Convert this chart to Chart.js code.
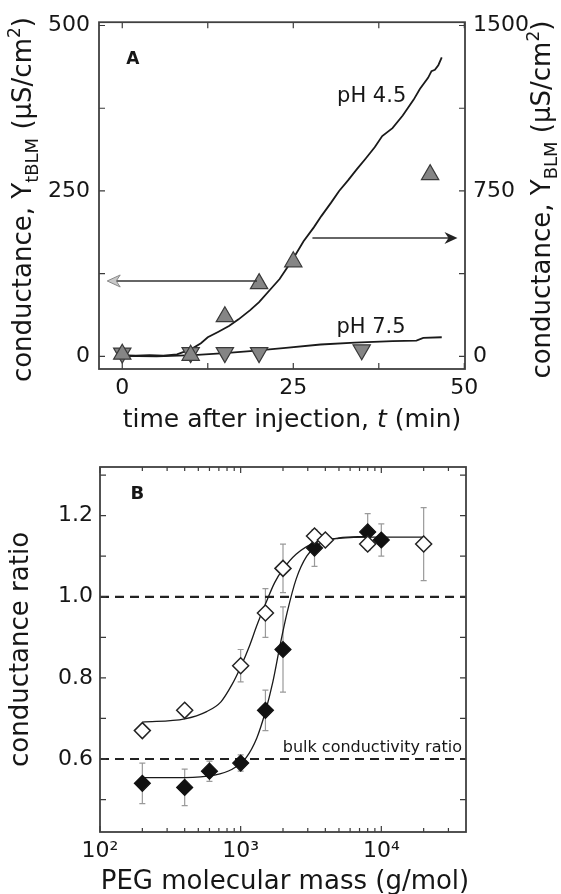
<!DOCTYPE html>
<html>
<head>
<meta charset="utf-8">
<script src="https://cdn.jsdelivr.net/npm/chart.js@4/dist/chart.umd.min.js"></script>
<style>
  body { margin: 0; background: #fff; width: 561px; height: 894px; overflow: hidden; }
  canvas { position: absolute; left: 0; }
  #chartA { top: 0; }
  #chartB { top: 440px; }
</style>
</head>
<body>
<canvas id="chartA" width="561" height="440"></canvas>
<canvas id="chartB" width="561" height="454"></canvas>
<script>
// ---- panel A : conductance vs time ----
const timeTicks = [0, 12.5, 25, 37.5, 50]
const leftTicks = [0, 125, 250, 375, 500]
const rightTicks = [0, 375, 750, 1125, 1500]

// tBLM traces (left axis, uS/cm2)
const ph45Time = [-0.5, 2, 4, 6, 8, 9, 10.4, 11.5, 12.5, 14, 15.6, 17, 18.7, 20, 21.8, 23, 23.9, 25, 26.5, 28, 29.1, 30.5, 31.7, 33, 34.3, 35.5, 36.9, 38, 39.5, 41, 42.6, 43.5, 44.7, 45.2, 45.7, 46.2, 46.7]
const ph45Y = [2, 1, 2, 1, 3, 7, 13, 20, 29, 37, 46, 56, 70, 82, 103, 117, 131, 148, 174, 195, 212, 232, 250, 266, 283, 298, 316, 333, 345, 364, 388, 404, 421, 431, 433, 440, 452]
const ph75Time = [-0.5, 5, 10.4, 15, 18.7, 23.9, 29, 34, 39.5, 43, 44, 46.7]
const ph75Y = [1, 0, 2, 5, 8, 13, 18, 21, 23, 24, 28, 29]

// BLM points (right axis, uS/cm2)
const blmUpTime = [0, 10, 15, 20, 25, 45]
const blmUpY = [10, 5, 180, 330, 429, 824]
const blmDownTime = [0, 10, 15, 20, 35]
const blmDownY = [15, 17, 17, 17, 30]

// arrows pointing to their axes (left-axis units)
const arrowLeft = { from: 19.7, to: -2.2, y: 114 }
const arrowRight = { from: 27.8, to: 49, y: 179 }

// ---- panel B : conductance ratio vs PEG mass ----
const massMajor = [100, 1000, 10000]
const massMinor = [200, 300, 400, 500, 600, 700, 800, 900, 2000, 3000, 4000, 5000, 6000, 7000, 8000, 9000, 20000, 30000]
const ratioMajor = [0.6, 0.8, 1.0, 1.2]
const ratioMinor = [0.5, 0.7, 0.9, 1.1, 1.3]

const openMass = [200, 400, 1000, 1500, 2000, 3350, 4000, 8000, 20000]
const openRatio = [0.67, 0.72, 0.83, 0.96, 1.07, 1.15, 1.14, 1.13, 1.13]
const openErr = [0, 0, 0.04, 0.06, 0.06, 0, 0, 0, 0.09]

const filledMass = [200, 400, 600, 1000, 1500, 2000, 3350, 8000, 10000]
const filledRatio = [0.54, 0.53, 0.57, 0.59, 0.72, 0.87, 1.12, 1.16, 1.14]
const filledErr = [0.05, 0.045, 0.025, 0.02, 0.05, 0.105, 0.045, 0.045, 0.04]

const openFitMass = [200, 400, 573, 724, 863, 1000, 1159, 1303, 1500, 1745, 2000, 2477, 3350, 5000, 9000, 20000]
const openFitRatio = [0.691, 0.699, 0.717, 0.741, 0.782, 0.827, 0.88, 0.929, 0.982, 1.035, 1.068, 1.105, 1.133, 1.144, 1.147, 1.147]
const filledFitMass = [200, 400, 645, 863, 1091, 1303, 1500, 1694, 1905, 2143, 2477, 2950, 3740, 5000, 8000]
const filledFitRatio = [0.554, 0.554, 0.56, 0.574, 0.603, 0.652, 0.717, 0.79, 0.88, 0.962, 1.043, 1.1, 1.133, 1.145, 1.149]

const refMass = [100, 40000]
const refBulk = [0.6, 0.6]
const refOne = [1, 1]

const FONT = '"DejaVu Sans", sans-serif'
const INK = '#161616'

function pts(xs, ys) { return xs.map((x, i) => ({ x: x, y: ys[i] })) }

function drawRuns(ctx, runs, cx, cy, rot) {
    // runs: [text, size, shift, italic]
    ctx.save()
    ctx.translate(cx, cy)
    ctx.rotate(rot)
    ctx.textAlign = 'left'
    ctx.textBaseline = 'alphabetic'
    ctx.fillStyle = INK
    let w = 0
    for (const r of runs) { ctx.font = (r[3] ? 'italic ' : '') + r[1] + 'px ' + FONT; w += ctx.measureText(r[0]).width }
    let x = -w / 2
    for (const r of runs) {
        ctx.font = (r[3] ? 'italic ' : '') + r[1] + 'px ' + FONT
        ctx.fillText(r[0], x, r[2] || 0)
        x += ctx.measureText(r[0]).width
    }
    ctx.restore()
}

function drawFrame(chart, xs, ys, xMinor, yMinor, xScaleId, yScaleId) {
    const ctx = chart.ctx
    const a = chart.chartArea
    const sx = chart.scales[xScaleId], sy = chart.scales[yScaleId]
    ctx.save()
    ctx.strokeStyle = '#3a3a3a'
    ctx.lineWidth = 1.2
    ctx.beginPath()
    for (const [list, len] of [[xs, 6], [xMinor || [], 4]]) {
        for (const v of list) {
            const p = sx.getPixelForValue(v)
            ctx.moveTo(p, a.bottom); ctx.lineTo(p, a.bottom - len)
            ctx.moveTo(p, a.top); ctx.lineTo(p, a.top + len)
        }
    }
    for (const [list, len] of [[ys, 6], [yMinor || [], 6]]) {
        for (const v of list) {
            const p = sy.getPixelForValue(v)
            ctx.moveTo(a.left, p); ctx.lineTo(a.left + len, p)
            ctx.moveTo(a.right, p); ctx.lineTo(a.right - len, p)
        }
    }
    ctx.stroke()
    ctx.lineWidth = 1.8
    ctx.strokeStyle = '#404040'
    ctx.strokeRect(a.left, a.top, a.right - a.left, a.bottom - a.top)
    ctx.restore()
}

function arrow(ctx, x0, x1, y, open) {
    const dir = Math.sign(x1 - x0)
    ctx.save()
    ctx.strokeStyle = '#333'
    ctx.lineWidth = 1.5
    ctx.beginPath(); ctx.moveTo(x0, y); ctx.lineTo(x1 - dir * 4, y); ctx.stroke()
    ctx.beginPath()
    ctx.moveTo(x1, y)
    ctx.lineTo(x1 - dir * 13, y - 6)
    ctx.lineTo(x1 - dir * 9, y)
    ctx.lineTo(x1 - dir * 13, y + 6)
    ctx.closePath()
    if (open) {
        ctx.fillStyle = '#c8c8c8'; ctx.fill()
        ctx.strokeStyle = '#888'; ctx.lineWidth = 1; ctx.stroke()
    } else {
        ctx.fillStyle = '#222'; ctx.fill()
    }
    ctx.restore()
}

const panelA = {
    id: 'panelA',
    afterDatasetsDraw(chart) {
        const ctx = chart.ctx
        const sx = chart.scales.x, sy = chart.scales.y
        drawFrame(chart, timeTicks, leftTicks, null, null, 'x', 'y')
        arrow(ctx, sx.getPixelForValue(arrowLeft.from), sx.getPixelForValue(arrowLeft.to), sy.getPixelForValue(arrowLeft.y), true)
        arrow(ctx, sx.getPixelForValue(arrowRight.from), sx.getPixelForValue(arrowRight.to), sy.getPixelForValue(arrowRight.y), false)

        ctx.save()
        ctx.fillStyle = INK
        ctx.textBaseline = 'middle'
        ctx.textAlign = 'left'
        ctx.font = 'bold 17px ' + FONT
        ctx.fillText('A', sx.getPixelForValue(0.6), sy.getPixelForValue(448))
        ctx.font = '21px ' + FONT
        ctx.fillText('pH 4.5', sx.getPixelForValue(31.4), sy.getPixelForValue(392))
        ctx.fillText('pH 7.5', sx.getPixelForValue(31.3), sy.getPixelForValue(43))
        ctx.restore()

        const a = chart.chartArea
        const mid = (a.top + a.bottom) / 2 + 4
        drawRuns(ctx, [['conductance, Y', 26], ['tBLM', 18, 7], [' (\u03bcS/cm', 26], ['2', 17, -11], [')', 26]], 31, mid, -Math.PI / 2)
        drawRuns(ctx, [['conductance, Y', 26], ['BLM', 18, 7], [' (\u03bcS/cm', 26], ['2', 17, -11], [')', 26]], 550, mid, -Math.PI / 2)
        drawRuns(ctx, [['time after injection, ', 25], ['t', 25, 0, true], [' (min)', 25]], (a.left + a.right) / 2 + 10, 427, 0)
    }
}

const errorBars = {
    id: 'errorBars',
    beforeDatasetsDraw(chart) {
        const ctx = chart.ctx
        const sx = chart.scales.x, sy = chart.scales.y
        ctx.save()
        ctx.strokeStyle = '#9a9a9a'
        ctx.lineWidth = 1.2
        ctx.beginPath()
        const sets = [[openMass, openRatio, openErr], [filledMass, filledRatio, filledErr]]
        for (const [ms, rs, es] of sets) {
            ms.forEach((m, i) => {
                if (!es[i]) return
                const x = sx.getPixelForValue(m)
                const y0 = sy.getPixelForValue(rs[i] - es[i]), y1 = sy.getPixelForValue(rs[i] + es[i])
                ctx.moveTo(x, y0); ctx.lineTo(x, y1)
                ctx.moveTo(x - 3, y0); ctx.lineTo(x + 3, y0)
                ctx.moveTo(x - 3, y1); ctx.lineTo(x + 3, y1)
            })
        }
        ctx.stroke()
        ctx.restore()
    },
    afterDatasetsDraw(chart) {
        const ctx = chart.ctx
        const sx = chart.scales.x, sy = chart.scales.y
        drawFrame(chart, massMajor, ratioMajor, massMinor, ratioMinor, 'x', 'y')
        ctx.save()
        ctx.fillStyle = INK
        ctx.textBaseline = 'middle'
        ctx.font = 'bold 18px ' + FONT
        ctx.textAlign = 'left'
        ctx.fillText('B', sx.getPixelForValue(165), sy.getPixelForValue(1.252))
        ctx.font = '16px ' + FONT
        ctx.textAlign = 'right'
        ctx.fillText('bulk conductivity ratio', chart.chartArea.right - 4, sy.getPixelForValue(0.628))
        ctx.restore()
        const a = chart.chartArea
        drawRuns(ctx, [['conductance ratio', 26]], 28, (a.top + a.bottom) / 2, -Math.PI / 2)
        drawRuns(ctx, [['PEG molecular mass (g/mol)', 26]], (a.left + a.right) / 2 + 2, 449, 0)
    }
}

const tickFont = { family: FONT, size: 22 }

new Chart(document.getElementById('chartA'), {
    type: 'line',
    data: {
        datasets: [
            {
                label: 'BLM pH 4.5', data: pts(blmUpTime, blmUpY), yAxisID: 'y2', showLine: false,
                pointStyle: 'triangle', pointRadius: 10, pointBackgroundColor: '#858585',
                pointBorderColor: '#3a3a3a', pointBorderWidth: 1.2, order: 0
            },
            {
                label: 'BLM pH 7.5', data: pts(blmDownTime, blmDownY), yAxisID: 'y2', showLine: false,
                pointStyle: 'triangle', pointRotation: 180, pointRadius: 10, pointBackgroundColor: '#858585',
                pointBorderColor: '#3a3a3a', pointBorderWidth: 1.2, order: 0
            },
            {
                label: 'tBLM pH 4.5', data: pts(ph45Time, ph45Y), yAxisID: 'y',
                borderColor: '#1a1a1a', borderWidth: 1.8, pointRadius: 0, tension: 0, order: 1
            },
            {
                label: 'tBLM pH 7.5', data: pts(ph75Time, ph75Y), yAxisID: 'y',
                borderColor: '#1a1a1a', borderWidth: 1.8, pointRadius: 0, tension: 0, order: 1
            }
        ]
    },
    options: {
        responsive: false,
        animation: false,
        layout: { padding: { top: 6, left: 0, right: 0, bottom: 0 } },
        plugins: { legend: { display: false }, tooltip: { enabled: false } },
        scales: {
            x: {
                type: 'linear', min: -3.4, max: 50.1,
                grid: { display: false, drawTicks: false }, border: { display: false },
                afterBuildTicks: s => { s.ticks = timeTicks.map(v => ({ value: v })) },
                afterFit: s => { s.height = 71 },
                ticks: { font: tickFont, color: INK, padding: 6, maxRotation: 0, callback: v => (v % 25 === 0 ? String(v) : '') }
            },
            y: {
                type: 'linear', position: 'left', min: -19, max: 505,
                grid: { display: false, drawTicks: false }, border: { display: false },
                afterBuildTicks: s => { s.ticks = leftTicks.map(v => ({ value: v })) },
                afterFit: s => { s.width = 99 },
                ticks: { font: tickFont, color: INK, padding: 9, callback: v => (v % 250 === 0 ? String(v) : '') }
            },
            y2: {
                type: 'linear', position: 'right', min: -57, max: 1515,
                grid: { display: false, drawTicks: false }, border: { display: false },
                afterBuildTicks: s => { s.ticks = rightTicks.map(v => ({ value: v })) },
                afterFit: s => { s.width = 96 },
                ticks: { font: tickFont, color: INK, padding: 8, callback: v => (v % 750 === 0 ? String(v) : '') }
            }
        }
    },
    plugins: [panelA]
})

const supers = { 100: '10\u00b2', 1000: '10\u00b3', 10000: '10\u2074' }

new Chart(document.getElementById('chartB'), {
    type: 'line',
    data: {
        datasets: [
            {
                label: 'open', data: pts(openMass, openRatio), showLine: false,
                pointStyle: 'rectRot', pointRadius: 8, pointBackgroundColor: '#fff',
                pointBorderColor: '#222', pointBorderWidth: 1.5, order: 0
            },
            {
                label: 'filled', data: pts(filledMass, filledRatio), showLine: false,
                pointStyle: 'rectRot', pointRadius: 8, pointBackgroundColor: '#111',
                pointBorderColor: '#111', pointBorderWidth: 1.2, order: 0
            },
            {
                label: 'open fit', data: pts(openFitMass, openFitRatio), borderColor: '#1a1a1a',
                borderWidth: 1.3, pointRadius: 0, cubicInterpolationMode: 'monotone', order: 1
            },
            {
                label: 'filled fit', data: pts(filledFitMass, filledFitRatio), borderColor: '#1a1a1a',
                borderWidth: 1.3, pointRadius: 0, cubicInterpolationMode: 'monotone', order: 1
            },
            {
                label: 'equal', data: pts(refMass, refOne), borderColor: '#222', borderWidth: 2.2,
                borderDash: [9, 6], pointRadius: 0, order: 2
            },
            {
                label: 'bulk', data: pts(refMass, refBulk), borderColor: '#222', borderWidth: 2.2,
                borderDash: [9, 6], pointRadius: 0, order: 2
            }
        ]
    },
    options: {
        responsive: false,
        animation: false,
        layout: { padding: { top: 27, left: 0, right: 95, bottom: 0 } },
        plugins: { legend: { display: false }, tooltip: { enabled: false } },
        scales: {
            x: {
                type: 'logarithmic', min: 100, max: 40000,
                grid: { display: false, drawTicks: false }, border: { display: false },
                afterBuildTicks: s => { s.ticks = massMajor.map(v => ({ value: v })) },
                afterFit: s => { s.height = 62 },
                ticks: { font: tickFont, color: INK, padding: 6, maxRotation: 0, callback: v => supers[v] || '' }
            },
            y: {
                type: 'linear', min: 0.42, max: 1.32,
                grid: { display: false, drawTicks: false }, border: { display: false },
                afterBuildTicks: s => { s.ticks = ratioMajor.map(v => ({ value: v })) },
                afterFit: s => { s.width = 100 },
                ticks: { font: tickFont, color: INK, padding: 7, callback: v => v.toFixed(1) }
            }
        }
    },
    plugins: [errorBars]
})
</script>
</body>
</html>
